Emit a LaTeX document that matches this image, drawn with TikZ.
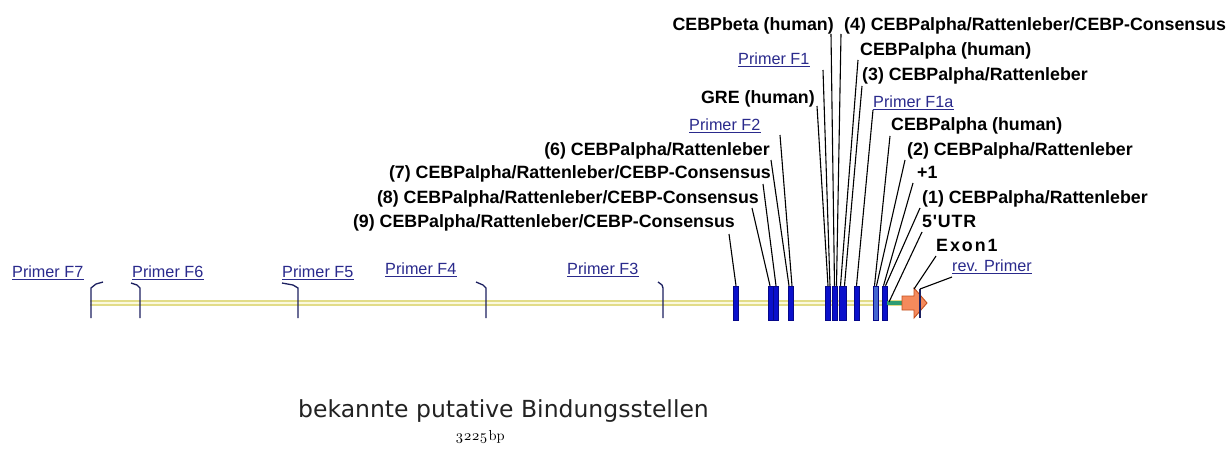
\documentclass[tikz,border=0pt]{standalone}
\usepackage{fontspec}
\setmainfont{Liberation Sans}
\newfontfamily\dvsans{DejaVu Sans}
\newfontfamily\lmroman{lmroman10-regular.otf}[Numbers=OldStyle]
\definecolor{barblue}{HTML}{0A10CC}
\definecolor{bardark}{HTML}{06088A}
\definecolor{barlight}{HTML}{4466D0}
\definecolor{prmblue}{HTML}{2A2A8C}
\definecolor{tickcol}{HTML}{1C2060}
\definecolor{yelo}{HTML}{E2DC88}
\definecolor{yeli}{HTML}{FBF9DE}
\definecolor{utrgreen}{HTML}{2E9C72}
\definecolor{exonfill}{HTML}{F58A5C}
\definecolor{exondraw}{HTML}{C4501E}
\definecolor{titlecol}{HTML}{222222}
\begin{document}
\begin{tikzpicture}[x=1pt,y=-1pt,
  lbl/.style={font=\bfseries\fontsize{17.8}{20}\selectfont, inner sep=0pt, text=black},
  prm/.style={font=\fontsize{16.2}{18}\selectfont, text=prmblue, inner xsep=0pt, inner ysep=2.2pt},
  ul/.style={draw=prmblue, line width=1.2pt},
  lead/.style={line width=1.1pt, black},
  tick/.style={line width=1.3pt, tickcol},
  bar/.style={rectangle, inner sep=0pt, minimum width=5pt, minimum height=34pt, fill=barblue, draw=bardark, line width=0.5pt},
]
\useasboundingbox (0,0) rectangle (1226,452);
\fill[white] (0,0) rectangle (1226,452);

% sequence line
\draw[line width=6.5pt, yelo] (90,303) -- (906,303);
\draw[line width=2.4pt, yeli] (90,303) -- (906,303);

% forward primer ticks
\draw[tick] (103,282) -- (96,284) -- (91,288) -- (91,318);
\draw[tick] (131,283) -- (137,285) -- (140,288) -- (140,318);
\draw[tick] (282,283) -- (293,285) -- (298,288) -- (298,318);
\draw[tick] (476,282) -- (483,285) -- (486,288) -- (486,318);
\draw[tick] (658,282) -- (662,285) -- (663,288) -- (663,318);

% binding-site bars
\node[bar] (b1) at (736,303) {};
\node[bar] (b2) at (771,303) {};
\node[bar] (b3) at (776,303) {};
\node[bar] (b4) at (791,303) {};
\node[bar] (b5) at (828,303) {};
\node[bar] (b6) at (834.5,303) {};
\node[bar, minimum width=7pt] (b7) at (842.5,303) {};
\node[bar] (b8) at (856.5,303) {};
\node[bar, fill=barlight] (b9) at (875.5,303) {};
\node[bar] (b10) at (884.5,303) {};

% 5'UTR and exon
\draw[line width=4pt, utrgreen] (b10.east |- 0,303) -- (903,303);
\coordinate (utr) at (889,302);
\draw[draw=exondraw, fill=exonfill, line width=0.9pt] (902,296) -- (914,296) -- (914,288) -- (927,303) -- (914,318) -- (914,310) -- (902,310) -- cycle;
\coordinate (extop) at (914,289);
% reverse primer tick
\draw[tick] (920,289) coordinate (rv) -- (920,318);

% primer labels
\node[prm, anchor=base west] (pF7) at (12,277) {Primer F7};
\node[prm, anchor=base west] (pF6) at (132,277) {Primer F6};
\node[prm, anchor=base west] (pF5) at (282,277) {Primer F5};
\node[prm, anchor=base west] (pF4) at (385,274) {Primer F4};
\node[prm, anchor=base west] (pF3) at (567,274) {Primer F3};
\node[prm, anchor=base west] (pF2) at (689,130) {Primer F2};
\node[prm, anchor=base west] (pF1) at (738,64) {Primer F1};
\node[prm, anchor=base west] (pF1a) at (873,107) {Primer F1a};
\node[prm, anchor=base west] (prev) at (952,271) {rev. Primer};
\foreach \n in {pF7,pF6,pF5,pF4,pF3,pF2,pF1,pF1a,prev}
  \draw[ul] (\n.south west) -- (\n.south east);

% site labels
\node[lbl, anchor=base east] (tbeta) at (834,31) {CEBPbeta (human)};
\node[lbl, anchor=base west] (t4) at (844,31) {(4) CEBPalpha/Rattenleber/CEBP-Consensus};
\node[lbl, anchor=base west] (tc1) at (860,56) {CEBPalpha (human)};
\node[lbl, anchor=base west] (t3) at (862,81) {(3) CEBPalpha/Rattenleber};
\node[lbl, anchor=base east] (tgre) at (815,103) {GRE (human)};
\node[lbl, anchor=base west] (tc2) at (891,130) {CEBPalpha (human)};
\node[lbl, anchor=base east] (t6) at (770,155) {(6) CEBPalpha/Rattenleber};
\node[lbl, anchor=base west] (t2) at (907,155) {(2) CEBPalpha/Rattenleber};
\node[lbl, anchor=base east] (t7) at (771,178) {(7) CEBPalpha/Rattenleber/CEBP-Consensus};
\node[lbl, anchor=base west] (tp1) at (917,178) {+1};
\node[lbl, anchor=base east] (t8) at (759,203) {(8) CEBPalpha/Rattenleber/CEBP-Consensus};
\node[lbl, anchor=base west] (t1) at (922,203) {(1) CEBPalpha/Rattenleber};
\node[lbl, anchor=base east] (t9) at (735,227) {(9) CEBPalpha/Rattenleber/CEBP-Consensus};
\node[lbl, anchor=base west] (tutr) at (922,227) {5\kern0.8pt\textquotesingle\kern0.8pt U\kern0.8pt T\kern0.8pt R};
\node[lbl, anchor=base west] (tex) at (936,251) {E\kern2pt x\kern2pt o\kern2pt n\kern2pt 1};

% leaders
\draw[lead] (729,234) -- (b1.north);
\draw[lead] (752,208) -- ([xshift=-1pt]b2.north);
\draw[lead] (763,184) -- (b3.north);
\draw[lead] (771,160) -- ([xshift=-2pt]b4.north);
\draw[lead] (780,135) -- ([xshift=1pt]b4.north);
\draw[lead] (817,106) -- (b5.north);
\draw[lead] (823,70) -- ([xshift=2pt]b5.north);
\draw[lead] (831,34) -- (b6.north);
\draw[lead] (841,34) -- ([xshift=2pt]b6.north);
\draw[lead] (858,60) -- ([xshift=-2pt]b7.north);
\draw[lead] (862,86) -- ([xshift=2pt]b7.north);
\draw[lead] (873,110) -- (b8.north);
\draw[lead] (890,136) -- ([xshift=-1pt]b9.north);
\draw[lead] (905,160) -- ([xshift=1pt]b9.north);
\draw[lead] (913,183) -- ([xshift=-1pt]b10.north);
\draw[lead] (920,208) -- ([xshift=1pt]b10.north);
\draw[lead] (922,232) -- (utr);
\draw[lead] (936,256) -- (extop);
\draw[lead] (952,277) -- (rv);

% caption
\node[font=\dvsans\fontsize{23.5}{26}\selectfont, text=titlecol, anchor=base west, inner sep=0pt] (title) at (298,417) {bekannte putative Bindungsstellen};
\node[font=\lmroman\fontsize{14.5}{17}\selectfont, anchor=base, inner sep=0pt] (len) at (480,440) {3225\kern1pt bp};
\end{tikzpicture}
\end{document}
